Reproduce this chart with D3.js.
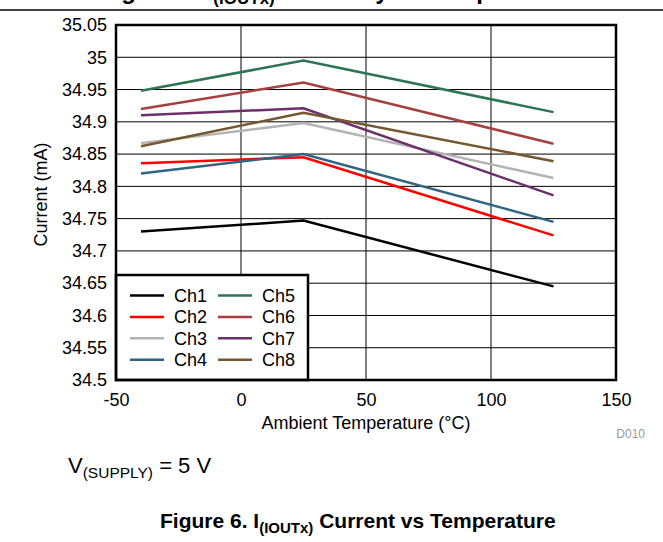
<!DOCTYPE html>
<html>
<head>
<meta charset="utf-8">
<script src="https://cdn.jsdelivr.net/npm/d3@7"></script>
<style>
  html, body { margin: 0; padding: 0; background: #fff; }
  svg { display: block; font-family: "Liberation Sans", Arial, Helvetica, sans-serif; }
</style>
</head>
<body>
<svg id="chart" width="663" height="542"></svg>
<script>
// ---- data ----
const temps = [-40, 25, 125];
const seriesNames = ["Ch1", "Ch2", "Ch3", "Ch4", "Ch5", "Ch6", "Ch7", "Ch8"];
const ch1 = [34.730, 34.747, 34.645];
const ch2 = [34.836, 34.845, 34.724];
const ch3 = [34.867, 34.898, 34.813];
const ch4 = [34.820, 34.850, 34.745];
const ch5 = [34.948, 34.995, 34.915];
const ch6 = [34.920, 34.961, 34.866];
const ch7 = [34.910, 34.921, 34.786];
const ch8 = [34.862, 34.914, 34.839];
const seriesColors = ["#000000", "#ff0000", "#b3b3b3", "#2f6482", "#2c7452", "#a5403e", "#6e2e6c", "#76572f"];
const xTicks = [-50, 0, 50, 100, 150];
const xTickLabels = ["-50", "0", "50", "100", "150"];
const yTicks = [34.5, 34.55, 34.6, 34.65, 34.7, 34.75, 34.8, 34.85, 34.9, 34.95, 35, 35.05];
const yTickLabels = ["34.5", "34.55", "34.6", "34.65", "34.7", "34.75", "34.8", "34.85", "34.9", "34.95", "35", "35.05"];

const allSeries = [ch1, ch2, ch3, ch4, ch5, ch6, ch7, ch8];

// ---- layout ----
const L = 116, R = 616, T = 25, B = 380;
const svg = d3.select("#chart");
const x = d3.scaleLinear().domain([-50, 150]).range([L, R]);
const y = d3.scaleLinear().domain([34.5, 35.05]).range([B, T]);

// top rule and (cropped) heading
svg.append("text").attr("x", 100).attr("y", -1)
  .attr("font-size", 24).attr("font-weight", "bold").attr("fill", "#000")
  .html('Figure 5. I<tspan font-size="17" dy="5">(IOUTx)</tspan><tspan dy="-5"> Accuracy vs Temperature</tspan>');
svg.append("line").attr("x1", 0).attr("x2", 663).attr("y1", 10).attr("y2", 10)
  .attr("stroke", "#000").attr("stroke-width", 1.5);

// gridlines
const g = svg.append("g");
g.selectAll(".vg").data(xTicks.slice(1, -1)).enter().append("line")
  .attr("x1", d => x(d)).attr("x2", d => x(d)).attr("y1", T).attr("y2", B)
  .attr("stroke", "#000").attr("stroke-width", 1);
g.selectAll(".hg").data(yTicks.slice(1, -1)).enter().append("line")
  .attr("x1", L).attr("x2", R).attr("y1", d => y(d)).attr("y2", d => y(d))
  .attr("stroke", "#000").attr("stroke-width", 1);

// axes
const yAxis = d3.axisLeft(y).tickValues(yTicks).tickSize(0).tickPadding(9)
  .tickFormat((d, i) => yTickLabels[i]);
const ya = svg.append("g").attr("transform", `translate(${L},0)`).call(yAxis);
ya.select(".domain").remove();
ya.selectAll("text").attr("font-size", 18).attr("fill", "#000")
  .attr("font-family", '"Liberation Sans", Arial, sans-serif');

const xAxis = d3.axisBottom(x).tickValues(xTicks).tickSize(0).tickPadding(13)
  .tickFormat((d, i) => xTickLabels[i]);
const xa = svg.append("g").attr("transform", `translate(0,${B})`).call(xAxis);
xa.select(".domain").remove();
xa.selectAll("text").attr("font-size", 18).attr("fill", "#000")
  .attr("font-family", '"Liberation Sans", Arial, sans-serif');

// lines
const line = d3.line().x((d, i) => x(temps[i])).y(d => y(d));
svg.append("g").selectAll("path").data(allSeries).enter().append("path")
  .attr("d", d => line(d))
  .attr("fill", "none")
  .attr("stroke", (d, i) => seriesColors[i])
  .attr("stroke-width", 2.5);

// legend
const lg = svg.append("g");
lg.append("rect").attr("x", L).attr("y", 275).attr("width", 308 - L).attr("height", B - 275)
  .attr("fill", "#fff").attr("stroke", "#000").attr("stroke-width", 2.5);
seriesNames.forEach((name, i) => {
  const col = Math.floor(i / 4), row = i % 4;
  const lx = 130 + col * 88, ly = 295.5 + row * 21.4;
  lg.append("line").attr("x1", lx).attr("x2", lx + 34).attr("y1", ly).attr("y2", ly)
    .attr("stroke", seriesColors[i]).attr("stroke-width", 2.5);
  lg.append("text").attr("x", lx + 44).attr("y", ly + 6.5)
    .attr("font-size", 18).attr("fill", "#000").text(name);
});

// plot border
svg.append("rect").attr("x", L).attr("y", T).attr("width", R - L).attr("height", B - T)
  .attr("fill", "none").attr("stroke", "#000").attr("stroke-width", 2.5);

// axis titles
svg.append("text").attr("transform", `translate(47,${(T + B) / 2 - 8}) rotate(-90)`)
  .attr("text-anchor", "middle").attr("font-size", 18).attr("fill", "#000").text("Current (mA)");
svg.append("text").attr("x", 366).attr("y", 429).attr("text-anchor", "middle")
  .attr("font-size", 18).attr("fill", "#000").text("Ambient Temperature (°C)");
svg.append("text").attr("x", 645).attr("y", 438).attr("text-anchor", "end")
  .attr("font-size", 12).attr("fill", "#999").text("D010");

// supply note
svg.append("text").attr("x", 68).attr("y", 473).attr("font-size", 22).attr("fill", "#000")
  .html('V<tspan font-size="15.5" dy="5">(SUPPLY)</tspan><tspan dy="-5"> = 5 V</tspan>');

// caption
svg.append("text").attr("x", 160).attr("y", 528).attr("font-size", 21).attr("font-weight", "bold").attr("fill", "#000")
  .html('Figure 6. I<tspan font-size="15" dy="5">(IOUTx)</tspan><tspan dy="-5"> Current vs Temperature</tspan>');
</script>
</body>
</html>
